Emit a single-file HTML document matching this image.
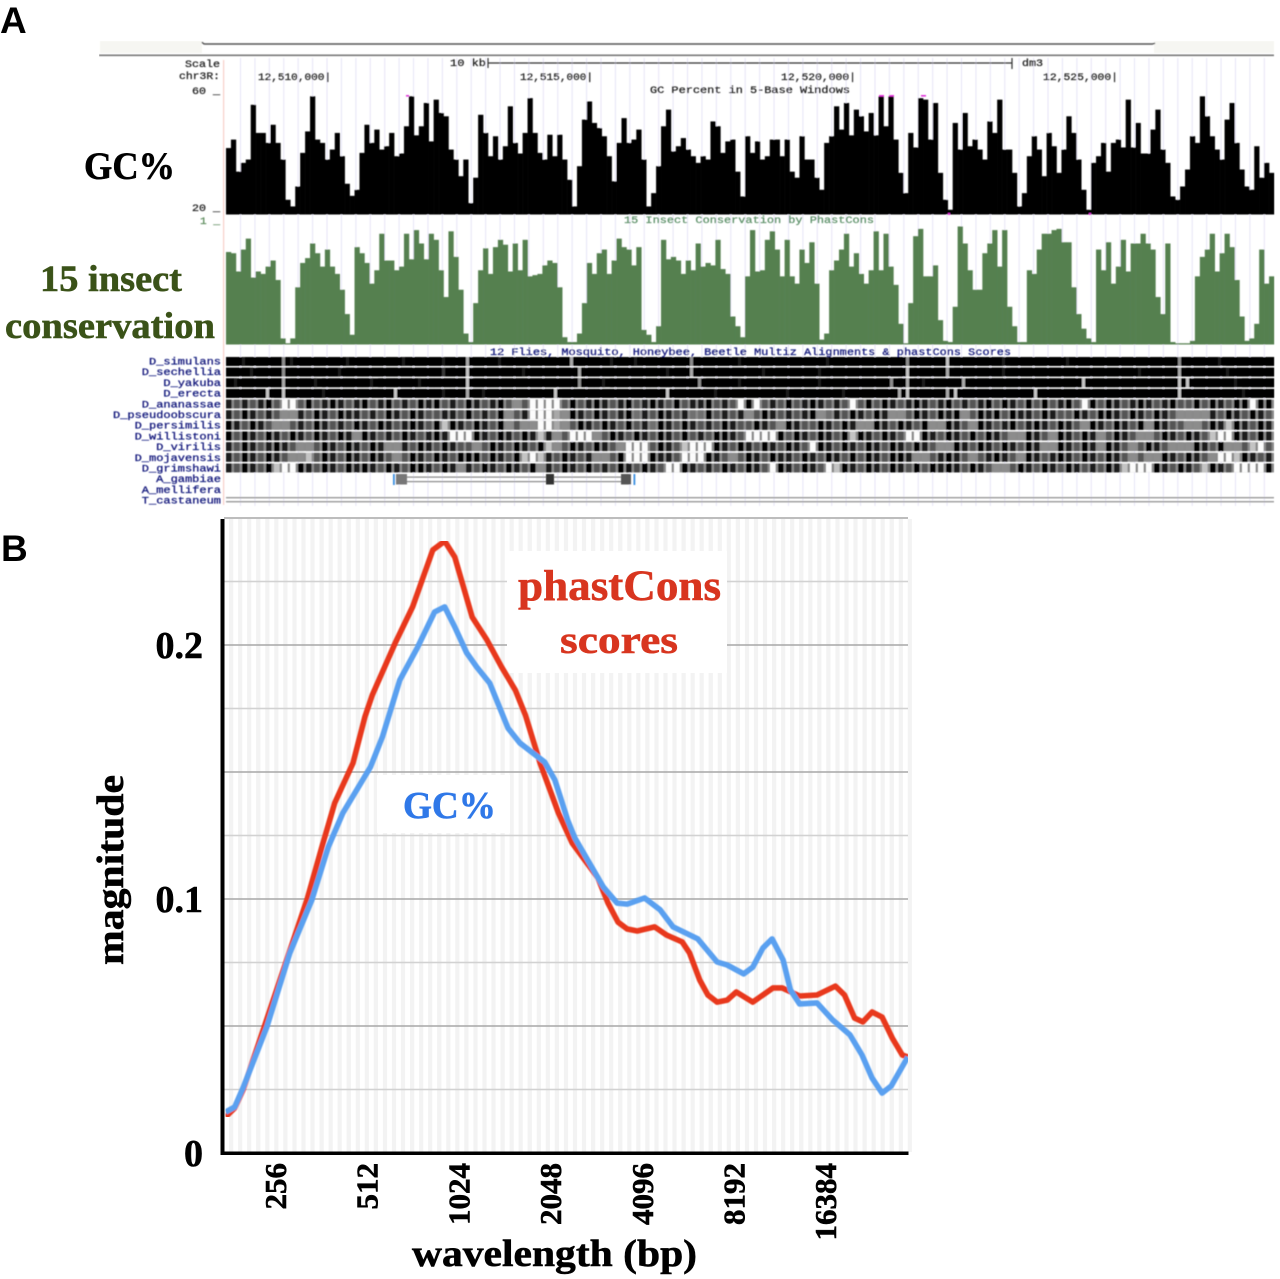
<!DOCTYPE html>
<html lang="en">
<head>
<meta charset="utf-8">
<title>GC percent and phastCons conservation</title>
<style>
html,body{margin:0;padding:0;background:#fff;}
svg{display:block;}
.serif{font-family:"Liberation Serif",serif;font-weight:bold;stroke-width:.55px;paint-order:stroke;}
.sans{font-family:"Liberation Sans",sans-serif;font-weight:bold;}
.mono{font-family:"Liberation Mono",monospace;font-size:10px;stroke-width:.25px;}
</style>
</head>
<body>
<svg id="figure" xmlns="http://www.w3.org/2000/svg" width="1280" height="1279" viewBox="0 0 1280 1279">
  <defs><filter id="soft" x="0" y="0" width="100%" height="100%"><feGaussianBlur stdDeviation="0.45"/></filter></defs>
  <rect x="0" y="0" width="1280" height="1279" fill="#fff"/>
  <text class="sans" x="0" y="33" font-size="37">A</text>
  <text class="sans" x="1" y="561" font-size="37">B</text>

  <g id="panelA" filter="url(#soft)">
    <rect x="100" y="41" width="102" height="12" fill="#f6f6f2"/>
    <rect x="1154" y="41" width="120" height="12" fill="#f6f6f2"/>
    <path d="M202 42 Q203 44 205 44 H1152 Q1154 44 1155 43" fill="none" stroke="#555" stroke-width="1.4"/>
    <rect x="99" y="54.5" width="1175" height="1.6" fill="#777"/>
    <g id="vLines"></g>
    <rect x="223" y="60" width="1.2" height="445" fill="#f8cfc8"/>
    <text class="mono" x="185" y="67" textLength="35" lengthAdjust="spacingAndGlyphs" fill="#222" stroke="#222">Scale</text>
    <text class="mono" x="179" y="79" textLength="41" lengthAdjust="spacingAndGlyphs" fill="#222" stroke="#222">chr3R:</text>
    <text class="mono" x="192" y="94" textLength="28" lengthAdjust="spacingAndGlyphs" fill="#222" stroke="#222">60 _</text>
    <text class="mono" x="192" y="211" textLength="28" lengthAdjust="spacingAndGlyphs" fill="#222" stroke="#222">20 _</text>
    <text class="mono" x="200" y="224" textLength="20" lengthAdjust="spacingAndGlyphs" fill="#5a8a5a" stroke="#5a8a5a">1 _</text>
    <text class="mono" x="450" y="66" textLength="36" lengthAdjust="spacingAndGlyphs" fill="#222" stroke="#222">10 kb</text>
    <path d="M488 58V68M488 63H1012M1012 58V69" fill="none" stroke="#333" stroke-width="1.2"/>
    <text class="mono" x="1022" y="66" textLength="21" lengthAdjust="spacingAndGlyphs" fill="#222" stroke="#222">dm3</text>
    <text class="mono" x="258" y="80" textLength="73" lengthAdjust="spacingAndGlyphs" fill="#222" stroke="#222">12,510,000|</text>
    <text class="mono" x="520" y="80" textLength="73" lengthAdjust="spacingAndGlyphs" fill="#222" stroke="#222">12,515,000|</text>
    <text class="mono" x="781" y="80" textLength="75" lengthAdjust="spacingAndGlyphs" fill="#222" stroke="#222">12,520,000|</text>
    <text class="mono" x="1043" y="80" textLength="75" lengthAdjust="spacingAndGlyphs" fill="#222" stroke="#222">12,525,000|</text>
    <text class="mono" x="650" y="93" textLength="200" lengthAdjust="spacingAndGlyphs" fill="#222" stroke="#222">GC Percent in 5-Base Windows</text>
    <g id="gcTrack"></g>
    <g fill="#e030d8">
      <rect x="406" y="95" width="3" height="1.6"/>
      <rect x="879" y="95" width="5" height="1.6"/>
      <rect x="889" y="95" width="5" height="1.6"/>
      <rect x="921" y="95" width="5" height="1.6"/>
      <rect x="948" y="213" width="2" height="2"/>
      <rect x="1089" y="213" width="2" height="2"/>
    </g>
    <text class="mono" x="624" y="223" textLength="250" lengthAdjust="spacingAndGlyphs" fill="#5c9068" stroke="#5c9068">15 Insect Conservation by PhastCons</text>
    <g id="consTrack"></g>
    <text class="mono" x="490" y="355" textLength="521" lengthAdjust="spacingAndGlyphs" fill="#0a1478" stroke="#0a1478">12 Flies, Mosquito, Honeybee, Beetle Multiz Alignments &amp; phastCons Scores</text>
    <g id="alignRows"></g>
    <g id="speciesLabels"></g>
    <g>
      <rect x="393" y="474" width="1.8" height="11" fill="#3a8ee0"/>
      <rect x="633.5" y="474" width="1.8" height="11" fill="#3a8ee0"/>
      <rect x="406" y="476.5" width="216" height="1.2" fill="#888"/>
      <rect x="406" y="481" width="216" height="1.2" fill="#888"/>
      <rect x="396" y="474" width="11" height="10.5" fill="#777"/>
      <rect x="546" y="474" width="8" height="10.5" fill="#333"/>
      <rect x="621" y="474" width="10" height="10.5" fill="#555"/>
    </g>
    <rect x="226" y="497" width="1048" height="1.4" fill="#999"/>
    <rect x="226" y="501" width="1048" height="1.4" fill="#999"/>
  </g>

  <text class="serif" x="84" y="179" font-size="39" stroke="#000" textLength="91" lengthAdjust="spacingAndGlyphs">GC%</text>
  <text class="serif" x="40" y="291" font-size="37" fill="#3a5218" stroke="#3a5218" textLength="142" lengthAdjust="spacingAndGlyphs">15 insect</text>
  <text class="serif" x="5" y="338" font-size="37" fill="#3a5218" stroke="#3a5218" textLength="210" lengthAdjust="spacingAndGlyphs">conservation</text>

  <g id="panelB">
    <g id="stripes"></g>
    <g id="hGrid"></g>
    <rect x="507" y="551" width="220" height="122" fill="#fff"/>
    <rect x="377" y="775" width="133" height="58" fill="#fff"/>
    <g id="lines" filter="url(#soft)"></g>
    <rect x="220.5" y="519" width="4" height="636" fill="#000"/>
    <rect x="220.5" y="1151.5" width="688" height="3.5" fill="#000"/>
    <g id="yTicks"></g>
    <g id="xTicks"></g>
    <text class="serif" x="518" y="600" font-size="43" fill="#d8351f" stroke="#d8351f" textLength="203" lengthAdjust="spacingAndGlyphs">phastCons</text>
    <text class="serif" x="560" y="653" font-size="39" fill="#d8351f" stroke="#d8351f" textLength="118" lengthAdjust="spacingAndGlyphs">scores</text>
    <text class="serif" x="403" y="818" font-size="38" fill="#2f78e8" stroke="#2f78e8" textLength="93" lengthAdjust="spacingAndGlyphs">GC%</text>
    <text class="serif" transform="rotate(-90 123 870)" x="123" y="870" font-size="38" stroke="#000" text-anchor="middle" textLength="190" lengthAdjust="spacingAndGlyphs">magnitude</text>
    <text class="serif" x="412" y="1266" font-size="38" stroke="#000" textLength="285" lengthAdjust="spacingAndGlyphs">wavelength (bp)</text>
  </g>
</svg>

<script>
// ---- Panel A data ----
const gcPercent = [41.8,44.6,34,36.9,38,56.1,46.8,46.8,43.5,49.5,43.5,38,24.7,22.5,29.1,40.2,47.3,58.9,44.6,43.5,38,41.3,46.8,39.1,30,26,28,40.2,49.5,43.5,47.9,41.3,42.4,46.8,39.1,40,49,58.9,46,49,56.7,44,57.8,53.4,52.3,41.3,38,32.5,38,23.6,32,52.8,46.8,39.1,45.7,38,42.4,55.6,43.5,40,46.8,58.3,46.8,40.2,38,46.2,39.1,46.2,38,31.3,22.5,35.8,51.2,57.2,50.1,48.4,45.7,39.1,30.8,43.5,51.7,43.5,44.6,47.9,
38,22.5,26.9,35.8,49,54.5,40.7,42.4,45.1,41.3,39.1,36.9,39.1,38,50.6,49,40.2,44,44.6,34,25.8,45.7,40.2,44,38,39.1,44.6,44.6,39.1,44.6,34,32,45.7,38,38,32,28,43.5,45.7,55.6,47.9,56.7,46,54.5,52.3,47.3,53.4,46,58.9,49,58.9,44.6,33.6,26.9,46.8,42,58.3,57.8,44.6,56.7,33.6,24.7,21.4,50.1,41.3,53.4,42.4,44.6,41.3,38,50.6,46.8,57.8,41.3,41.3,33.6,22.5,26.9,39.1,45.7,41.3,32.5,46.8,42.4,33.6,41.3,52.3,46.8,38,28,21.4,36.9,39.1,43.5,34,43.5,44.6,42,57.8,42,50.1,40,40,47.9,54.5,41.3,36.9,25.8,24.7,29.1,34.7,45.7,43.5,58.9,52.3,45.7,41.3,38,51.2,56.7,43.5,34.7,29.1,28,42.4,32,36.9,33.6];

const phastConsScore = [.76,.75,.6,.78,.87,.55,.60,.58,.64,.69,.53,.05,.01,.05,.47,.67,.71,.83,.75,.64,.78,.64,.58,.45,.25,.08,.80,.75,.67,.5,.61,.91,.69,.69,.61,.64,.91,.7,.94,.83,.7,.91,.86,.61,.39,.93,.72,.45,.09,.02,.34,.61,.79,.58,.80,.86,.82,.6,.83,.61,.86,.56,.57,.58,.65,.69,.67,.47,.06,.02,.02,.09,.34,.67,.58,.75,.78,.58,.69,.87,.80,.78,.65,.80,
.12,.08,.02,.15,.86,.7,.72,.69,.58,.69,.61,.83,.64,.67,.65,.86,.62,.58,.23,.15,.06,.56,.94,.6,.61,.86,.93,.78,.56,.86,.56,.5,.78,.67,.84,.50,.04,.09,.61,.69,.78,.91,.64,.75,.58,.5,.61,.93,.61,.91,.64,.49,.17,.01,.34,.89,.95,.56,.56,.65,.20,.03,.02,.31,.97,.83,.61,.45,.45,.75,.83,.94,.64,.94,.31,.15,.02,.02,.61,.58,.78,.91,.91,.94,.95,.84,.84,.47,.25,.13,.05,.02,.78,.61,.84,.5,.64,.86,.6,.83,.83,.91,.83,.78,.39,.25,.83,.02,.01,.01,.01,.03,.56,.72,.78,.91,.6,.75,.91,.80,.53,.23,.03,.05,.17,.78,.5,.56];

const speciesNames = ["D_simulans","D_sechellia","D_yakuba","D_erecta","D_ananassae","D_pseudoobscura","D_persimilis","D_willistoni","D_virilis","D_mojavensis","D_grimshawi","A_gambiae","A_mellifera","T_castaneum"];

// Each digit is one alignment cell: 0 = fully conserved (black), 9 = no alignment (white).
const alignmentRows = [
"0010000510 0000010000 0010000100 6000100000 0006000010 0100000050 0000100000 0000010000 0000050000 7000000100 0000010000 0000000005 0000100000 0",
"0001000500 0000100000 0000000200 7000000100 0000600000 0000010060 0000000100 0000100000 0000070000 6000000100 0000000000 0000100006 0000010000 0",
"0100000600 0100000010 0000100000 7000000000 0000500100 0000000005 0000100000 0000100000 0005060100 0060000000 0000000700 0000000007 7000001000 0",
"0000070700 0010000000 0700000100 6010000000 0700000000 0000070000 0100000000 1000000100 0000670000 6700000000 0700000000 0000000007 0000000100 0",
"1313103993 0310131031 0313010313 0131035399 9930310131 0310130311 0313909313 0310131393 0301310131 0313103013 0303103903 0131013103 3030130090 0",
"1301313551 3013011313 0130133113 0313053199 9650130131 0413013144 0313153013 1310541301 3015530130 1053010301 1301330130 0130130135 5551301301 3",
"0130135531 3013130130 1310130701 3013053559 9653013013 0314013013 1301330135 0133013015 5013013055 0135013103 1013013501 3013050133 5530170130 1",
"0301301301 3013015013 1301310199 9013013017 1539995301 3013013031 3001399990 3013013070 1301399013 0130301355 0135013015 3013553013 0137990130 1",
"1301310135 5301301301 5513013013 3530130130 7530130135 9993013799 9013013013 0139013013 0130130135 5013013013 0155013015 0135301355 5013055379 3",
"1301301355 7301301301 3530130130 0030130797 1301315530 9990113999 0135301301 1301301303 0130015531 0135310135 0131013013 0135355013 0135997013 1",
"1301307990 1301301013 0130013015 1301301305 1301303130 1301399013 1301301390 1301397013 0130130301 0130135530 1301301313 0179990130 1370139999 0"
];

// ---- Panel B data ----
const ySteps = [.025,.05,.075,.1,.125,.15,.175,.2,.225,.25];
const yTickValues = [0,.1,.2];
const yTickLabels = ["0","0.1","0.2"];
const xTickOctaves = [8,9,10,11,12,13,14];
const xTickLabels = ["256","512","1024","2048","4096","8192","16384"];

const phastOctave = [7.45,7.55,7.64,8.34,8.50,8.64,8.84,8.97,9.05,9.30,9.49,9.71,9.84,9.95,10.14,10.30,10.46,10.61,10.72,10.88,11.08,11.23,11.39,11.51,11.62,11.73,11.83,11.94,12.13,12.26,12.43,12.51,12.62,12.71,12.81,12.92,13.02,13.20,13.42,13.52,13.71,13.90,14.10,14.20,14.31,14.40,14.50,14.61,14.72,14.83,14.89];
const phastMagnitude = [.0142,.0177,.0248,.100,.1205,.1378,.1535,.1717,.1803,.2008,.215,.2374,.2409,.2346,.211,.202,.1913,.1823,.1724,.1535,.1339,.122,.1142,.1083,.0984,.0909,.0882,.0874,.089,.0858,.0831,.0787,.0681,.0622,.0594,.0602,.0634,.0594,.065,.065,.0618,.0622,.0657,.0622,.0531,.0516,.0555,.0535,.0453,.0386,.0378];

const gcOctave = [7.45,7.55,7.64,7.90,8.15,8.39,8.57,8.73,9.03,9.16,9.35,9.54,9.73,9.84,9.95,10.08,10.19,10.33,10.53,10.66,10.93,11.04,11.10,11.18,11.26,11.57,11.72,11.83,12.02,12.19,12.33,12.60,12.81,12.92,13.10,13.20,13.31,13.41,13.53,13.61,13.71,13.90,14.07,14.26,14.39,14.50,14.61,14.71,14.89];
const gcMagnitude = [.0161,.0181,.0256,.0496,.0787,.0996,.1205,.1339,.152,.1638,.1862,.1988,.213,.215,.2071,.1969,.1913,.185,.1673,.1614,.1539,.1469,.1402,.1311,.124,.1047,.0984,.098,.1004,.0957,.089,.0843,.0752,.074,.0705,.0732,.0807,.0843,.076,.0642,.0587,.0591,.0524,.0465,.0386,.0295,.0236,.0264,.0378];

// ---- Scales ----
const NS = "http://www.w3.org/2000/svg";
const trackLeft = 226, trackRight = 1274;
const binX = (i, n) => trackLeft + i * (trackRight - trackLeft) / n;
const gcY = v => 214 - (v - 20) * 3.025;
const consY = v => 344.5 - v * 121.7;
const magY = v => 1153 - v * 2540;
const octX = o => 276 + (o - 8) * 91.7;

function mk(tag, parent, attrs) {
  const el = document.createElementNS(NS, tag);
  for (const k in attrs) el.setAttribute(k, attrs[k]);
  document.getElementById(parent).appendChild(el);
  return el;
}

// Browser guides
for (let x = 240; x < 1274; x += 14.42) {
  const g = mk("rect", "vLines", {x: x, y: 58, width: 1, height: 448, fill: "#e6e4f6"});
  
  
}

// GC track
gcPercent.forEach((v, i) => {
  const w = (trackRight - trackLeft) / gcPercent.length;
  const r = mk("rect", "gcTrack", {x: binX(i, gcPercent.length), y: gcY(v), width: w + .3, height: 214.5 - gcY(v), fill: "#000"});
  
  
});

// Conservation track
phastConsScore.forEach((v, i) => {
  const w = (trackRight - trackLeft) / phastConsScore.length;
  const r = mk("rect", "consTrack", {x: binX(i, phastConsScore.length), y: consY(v), width: w + .3, height: 344.5 - consY(v), fill: "#54804f"});
  
  
});

// Alignment heatmap
alignmentRows.forEach((row, r) => {
  const cells = row.replace(/ /g, "");
  const top = 357 + r * 10.65;
  const cw = (trackRight - trackLeft) / cells.length;
  const band = mk("rect", "alignRows", {x: trackLeft, y: top, width: trackRight - trackLeft, height: 8.9, fill: r < 4 ? "#000" : "#8a8a8a"});
  
  
  for (let c = 0; c < cells.length; c++) {
    const d = +cells[c];
    const g = d * 28;
    const thin = r < 4 ? (d === 0 ? cw + .3 : 3) : 5.6;
    const cell = mk("rect", "alignRows", {x: binX(c, cells.length), y: top, width: thin, height: 8.9, fill: "rgb(" + g + "," + g + "," + g + ")"});
    
    
  }
});

// Species labels
speciesNames.forEach((name, i) => {
  const len = name.length * 7.2;
  const t = mk("text", "speciesLabels", {x: 221 - len, y: 364.5 + i * 10.7, textLength: len, lengthAdjust: "spacingAndGlyphs", fill: "#0a1478", stroke: "#0a1478", class: "mono"});
  t.textContent = name;
  
  
});

// Panel B grid
for (let x = 229; x < 908; x += 9.05) {
  const s = mk("rect", "stripes", {x: x, y: 519, width: 4.2, height: 633, fill: "#f3f3f3"});
  
  
}
ySteps.forEach((v, i) => {
  const major = (i % 2) === 1;
  const l = mk("rect", "hGrid", {x: 224, y: magY(v) - 0.8, width: 684, height: 1.6, fill: major ? "#adadad" : "#d2d2d2"});
  
  
});

// Series
function drawLine(xs, ys, color, name) {
  const pts = xs.map((o, i) => octX(o).toFixed(1) + "," + magY(ys[i]).toFixed(1)).join(" ");
  const p = mk("polyline", "lines", {points: pts, fill: "none", stroke: color, "stroke-width": 5.6, "stroke-linejoin": "round"});
  
  
}
drawLine(phastOctave, phastMagnitude, "#e8391c", "phastcons-line");
drawLine(gcOctave, gcMagnitude, "#5aa0f0", "gc-percent-line");

// Tick labels
yTickValues.forEach((v, i) => {
  const t = mk("text", "yTicks", {x: 203, y: magY(v) + 13, "text-anchor": "end", "font-size": 38, stroke: "#000", class: "serif"});
  t.textContent = yTickLabels[i];
  
  
});
xTickOctaves.forEach((o, i) => {
  const x = octX(o) + 10, y = 1163;
  const t = mk("text", "xTicks", {x: x, y: y, "text-anchor": "end", "font-size": 31, stroke: "#000", class: "serif", transform: "rotate(-90 " + x + " " + y + ")"});
  t.textContent = xTickLabels[i];
  
  
});
</script>
</body>
</html>
